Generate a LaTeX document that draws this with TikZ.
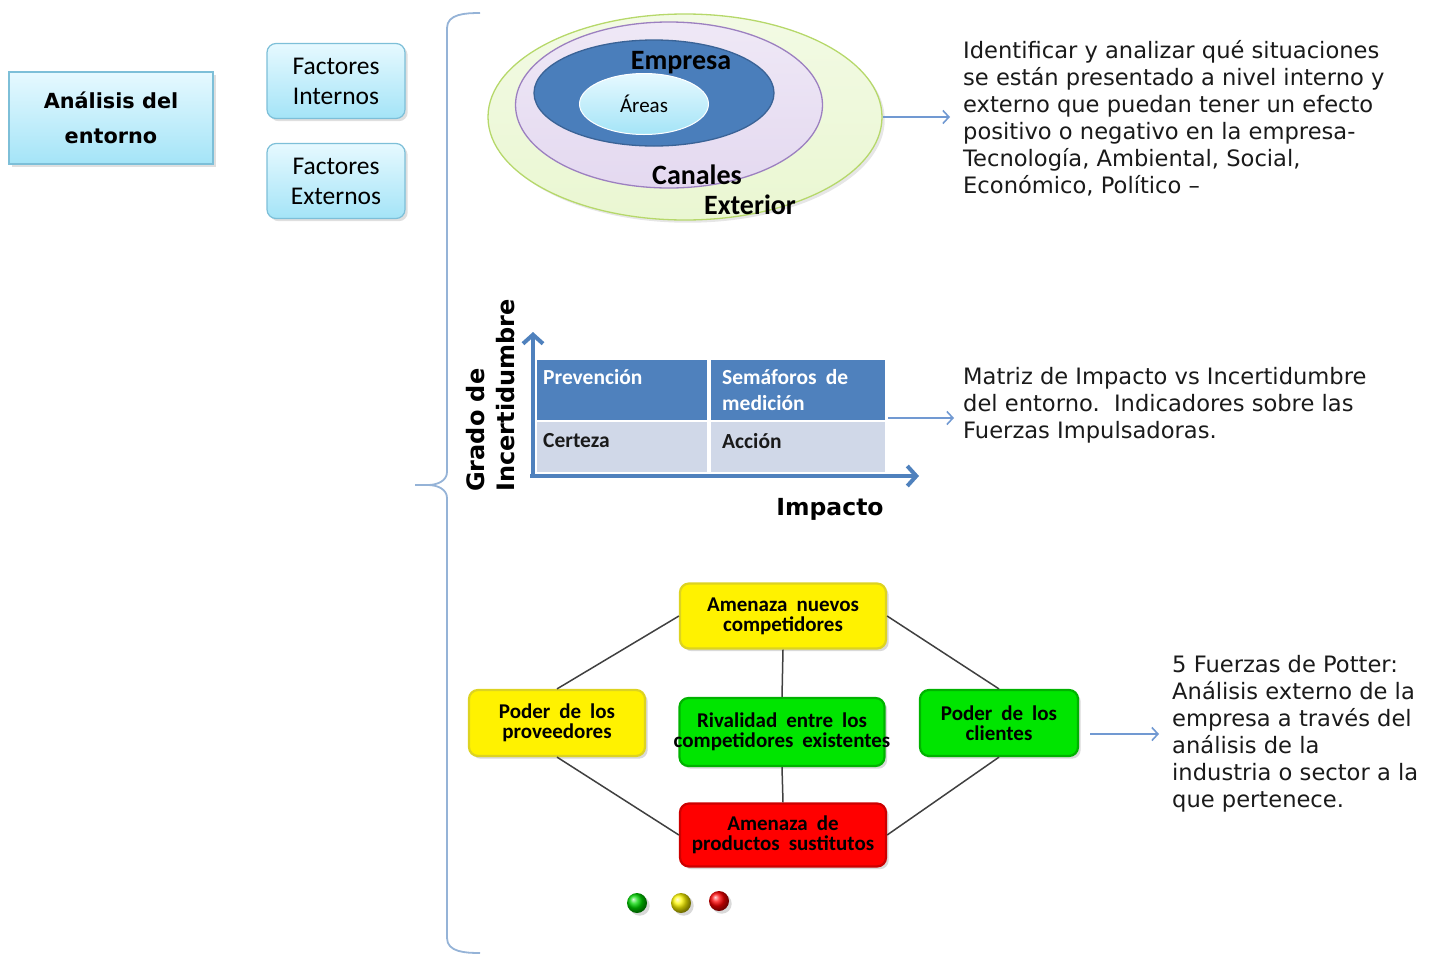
\documentclass[tikz,border=0pt]{standalone}
\usepackage{fontspec}
\setmainfont{DejaVu Sans}
\newfontfamily\calfont{Carlito}
\newfontfamily\calwide[WordSpace=1.9]{Carlito}
\usetikzlibrary{positioning,arrows.meta,shadows,shapes.geometric}
\definecolor{cyantop}{HTML}{E6F9FF}
\definecolor{cyanbot}{HTML}{A4E4F7}
\definecolor{cyanedge}{HTML}{7DBFD8}
\definecolor{greenfill}{HTML}{EAF7D2}
\definecolor{greenedge}{HTML}{B6D86A}
\definecolor{lilac}{HTML}{E4D9F0}
\definecolor{lilacedge}{HTML}{9C80C0}
\definecolor{darkblue}{HTML}{4A7EBB}
\definecolor{darkedge}{HTML}{3A6396}
\definecolor{hdrblue}{HTML}{4F81BD}
\definecolor{rowgray}{HTML}{D0D8E8}
\definecolor{bracecol}{HTML}{95B3D7}
\definecolor{arrcol}{HTML}{7199D2}
\definecolor{txtcol}{HTML}{1A1A1A}

\begin{document}
\begin{tikzpicture}[x=1pt,y=-1pt,
  font=\fontsize{22.6}{27}\selectfont,
  cyanbox/.style={draw=cyanedge,line width=1.2pt,top color=cyantop,bottom color=cyanbot,
                  drop shadow={opacity=0.25},align=center,inner sep=0pt},
  factbox/.style={cyanbox,rounded corners=9pt,minimum width=138pt,minimum height=75pt,
                  font=\calfont\fontsize{25.5}{30}\selectfont},
  ring/.style={ellipse,draw,line width=1.3pt,inner sep=0pt},
  ringlbl/.style={font=\calfont\bfseries\fontsize{28}{30}\selectfont,inner sep=0pt},
  cell/.style={anchor=north west,inner sep=0pt,minimum height=60pt},
  celltxt/.style={anchor=north west,align=left,inner sep=0pt,
                  font=\calfont\bfseries\fontsize{21.5}{26}\selectfont},
  axis/.style={line width=4pt,hdrblue,-{Straight Barb[length=9pt,width=20pt,line width=4pt]}},
  force/.style={rounded corners=9pt,line width=2.2pt,minimum height=65pt,align=center,
                inner sep=0pt,drop shadow={opacity=0.3},
                font=\calwide\bfseries\fontsize{21}{20}\selectfont},
  amarillo/.style={force,fill=yellow,draw=yellow!85!black},
  verde/.style={force,fill=green!90!black,draw=green!70!black},
  rojo/.style={force,fill=red,draw=red!80!black},
  link/.style={line width=1.5pt,black!75},
  dot/.style={circle,inner sep=0pt,minimum size=20pt,shading=ball,drop shadow={opacity=0.3}},
  arr/.style={-{Straight Barb[length=6pt,width=13pt]},line width=1.6pt,arrcol},
  note/.style={anchor=north west,align=left,inner sep=0pt,text=txtcol}
]
\useasboundingbox (0,0) rectangle (1432,956);

% izquierda
\node[cyanbox,minimum width=204pt,minimum height=92pt,
      font=\bfseries\fontsize{20.8}{35}\selectfont] (ana) at (111,118) {Análisis del\\entorno};
\node[factbox] (fint) at (336,81)  {Factores\\Internos};
\node[factbox] (fext) at (336,181) {Factores\\Externos};

% llave
\draw[bracecol,line width=1.8pt]
  (480,13) to[out=180,in=90] (447,28) -- (447,472) to[out=-90,in=0] (428,485) -- (415,485)
  (428,485) to[out=0,in=90] (447,498) -- (447,938) to[out=-90,in=180] (480,953);

% circulos del entorno
\node[ring,draw=greenedge,top color=greenfill!60!white,bottom color=greenfill,
      minimum width=394pt,minimum height=206pt,drop shadow={opacity=0.2}] (ext) at (685,117) {};
\node[ring,draw=lilacedge,top color=lilac!60!white,bottom color=lilac,
      minimum width=307pt,minimum height=166pt] (can) at (669,105) {};
\node[ring,draw=darkedge,fill=darkblue,minimum width=240pt,minimum height=106pt] (emp) at (654,93) {};
\node[ring,draw=white,line width=1pt,top color=cyantop,bottom color=cyanbot,
      minimum width=129pt,minimum height=61pt] (are) at (644,104) {};
\node[ringlbl] at (681,63)  {Empresa};
\node[font=\calfont\fontsize{21}{24}\selectfont] at (are) {Áreas};
\node[ringlbl] at (697,175) {Canales};
\node[ringlbl] at (750,205) {Exterior};

\node[note] (txtA) at (963,40) {Identificar y analizar qué situaciones\\
  se están presentado a nivel interno y\\
  externo que puedan tener un efecto\\
  positivo o negativo en la empresa-\\
  Tecnología, Ambiental, Social,\\
  Económico, Político –};
\draw[arr,shorten >=13pt] (ext.east) -- (ext.east -| txtA.west);

% matriz impacto vs incertidumbre
\node[cell,fill=hdrblue,minimum width=170pt] (prev) at (537,360) {};
\node[cell,fill=hdrblue,minimum width=174pt] (sema) at (711,360) {};
\node[cell,fill=rowgray,minimum width=170pt,minimum height=50pt] (cert) at (537,422) {};
\node[cell,fill=rowgray,minimum width=174pt,minimum height=50pt] (acci) at (711,422) {};
\node[celltxt,text=white] at ([shift={(6,9)}]prev.north west) {Prevención};
\node[celltxt,text=white] at ([shift={(11,9)}]sema.north west) {Semáforos de\\medición};
\node[celltxt,text=txtcol] at ([shift={(6,11)}]cert.north west) {Certeza};
\node[celltxt,text=txtcol] at ([shift={(11,11)}]acci.north west) {Acción};
\coordinate (orig) at (533,476);
\coordinate (ytop) at (533,332);
\coordinate (xend) at (919,476);
\draw[axis] ([yshift=2pt]orig) -- (ytop);
\draw[axis] ([xshift=-3pt]orig) -- (xend);
\node[rotate=90,anchor=north west,align=left,inner sep=0pt,
      font=\bfseries\fontsize{24}{30}\selectfont] (gdi) at (466,492) {Grado de\\Incertidumbre};
\node[font=\bfseries\fontsize{23.5}{26}\selectfont] (imp) at (830,509) {Impacto};

\node[note] (txtB) at (963,367) {Matriz de Impacto vs Incertidumbre\\
  del entorno.\ \ Indicadores sobre las\\
  Fuerzas Impulsadoras.};
\coordinate (mB) at (888,418);
\draw[arr,shorten >=9pt] (mB) -- (mB -| txtB.west);

% 5 fuerzas
\node[amarillo,minimum width=206pt] (nue) at (783,616) {Amenaza nuevos\\competidores};
\node[amarillo,minimum width=176pt,minimum height=66pt] (pro) at (557,723) {Poder de los\\proveedores};
\node[verde,minimum width=205pt,minimum height=68pt] (riv) at (782,732)
  {Rivalidad entre los\\\makebox[200pt][c]{competidores existentes}};
\node[verde,minimum width=158pt,minimum height=66pt] (cli) at (999,723) {Poder de los\\clientes};
\node[rojo,minimum width=206pt,minimum height=63pt] (sus) at (783,835) {Amenaza de\\productos sustitutos};
\foreach \a/\b in {nue.west/pro.north, nue.east/cli.north, nue.south/riv.north,
                   riv.south/sus.north, pro.south/sus.west, cli.south/sus.east}
  \draw[link] (\a) -- (\b);
\node[dot,ball color=green!85!black] (dg) at (637,903) {};
\node[dot,ball color=yellow!95!orange] (dy) at (681,903) {};
\node[dot,ball color=red] (dr) at (719,901) {};

\node[note] (txtC) at (1172,655) {5 Fuerzas de Potter:\\
  Análisis externo de la\\
  empresa a través del\\
  análisis de la\\
  industria o sector a la\\
  que pertenece.};
\coordinate (mC) at (1090,734);
\draw[arr,shorten >=13pt] (mC) -- (mC -| txtC.west);
\end{tikzpicture}
\end{document}
